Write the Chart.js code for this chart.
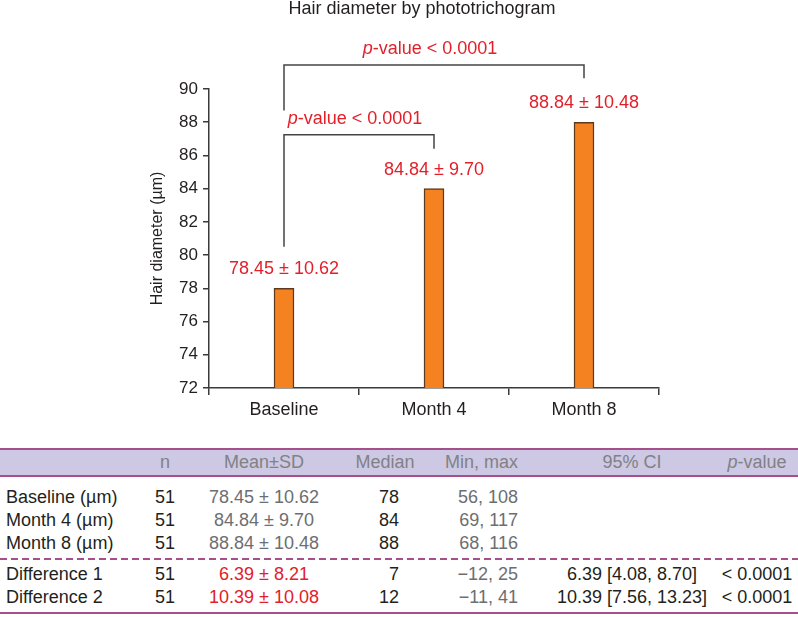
<!DOCTYPE html>
<html>
<head>
<meta charset="utf-8">
<script src="https://cdn.jsdelivr.net/npm/chart.js@4"></script>
<style>
  body { margin: 0; background: #fff; }
  #wrap { position: relative; width: 798px; height: 617px; font-family: "Liberation Sans", Arial, sans-serif; color: #231f20; }
  #chart { position: absolute; left: 0; top: 0; }
  .cell { position: absolute; font-size: 18px; white-space: nowrap; line-height: 20px; }
  .hline { position: absolute; left: 0; width: 798px; }
</style>
</head>
<body>
<div id="wrap">
  <canvas id="chart" width="798" height="440"></canvas>
</div>
<script>
// chart data
var categories = ['Baseline', 'Month 4', 'Month 8'];
var barValues = [78, 84, 88];
var barLabels = ['78.45 ± 10.62', '84.84 ± 9.70', '88.84 ± 10.48'];

// significance brackets: [from index, to index, level, left leg end, right leg end]
var brackets = [
  [0, 1, 87.25, 80.5, 86.4],
  [0, 2, 91.45, 88.7, 90.65]
];
var bracketText = 'p-value < 0.0001';

// table data
var tableHeader = ['', 'n', 'Mean±SD', 'Median', 'Min, max', '95% CI', 'p-value'];
var rowNames = ['Baseline (µm)', 'Month 4 (µm)', 'Month 8 (µm)', 'Difference 1', 'Difference 2'];
var rowN = ['51', '51', '51', '51', '51'];
var rowMeanSD = ['78.45 ± 10.62', '84.84 ± 9.70', '88.84 ± 10.48', '6.39 ± 8.21', '10.39 ± 10.08'];
var rowMedian = ['78', '84', '88', '7', '12'];
var rowMinMax = ['56, 108', '69, 117', '68, 116', '−12, 25', '−11, 41'];
var rowCI = ['', '', '', '6.39 [4.08, 8.70]', '10.39 [7.56, 13.23]'];
var rowP = ['', '', '', '< 0.0001', '< 0.0001'];

var red = '#e3202a';
var axisColor = '#3a3a3a';
var fontFamily = '"Liberation Sans", Arial, sans-serif';

function drawPText(c, x, y, size) {
  var rest = bracketText.slice(1);
  c.font = 'italic ' + size + 'px ' + fontFamily;
  var w1 = c.measureText('p').width;
  c.font = size + 'px ' + fontFamily;
  var w2 = c.measureText(rest).width;
  var x0 = x - (w1 + w2) / 2;
  c.fillStyle = red;
  c.textAlign = 'left';
  c.textBaseline = 'middle';
  c.font = 'italic ' + size + 'px ' + fontFamily;
  c.fillText('p', x0, y);
  c.font = size + 'px ' + fontFamily;
  c.fillText(rest, x0 + w1, y);
}

var extras = {
  id: 'extras',
  afterDatasetsDraw: function(chart) {
    var c = chart.ctx;
    var xs = chart.scales.x, ys = chart.scales.y;
    c.save();
    // title
    c.fillStyle = '#231f20';
    c.font = '18px ' + fontFamily;
    c.textAlign = 'center';
    c.textBaseline = 'middle';
    c.fillText('Hair diameter by phototrichogram', 422, 9);
    // bar labels
    var meta = chart.getDatasetMeta(0);
    c.fillStyle = red;
    c.font = '18px ' + fontFamily;
    meta.data.forEach(function(bar, i) {
      c.fillText(barLabels[i], bar.x, bar.y - 19);
    });
    // brackets
    c.strokeStyle = '#444';
    c.lineWidth = 1.5;
    brackets.forEach(function(b) {
      var x1 = xs.getPixelForValue(b[0]);
      var x2 = xs.getPixelForValue(b[1]);
      var yTop = ys.getPixelForValue(b[2]);
      c.beginPath();
      c.moveTo(x1, ys.getPixelForValue(b[3]));
      c.lineTo(x1, yTop);
      c.lineTo(x2, yTop);
      c.lineTo(x2, ys.getPixelForValue(b[4]));
      c.stroke();
      drawPText(c, (x1 + x2) / 2 - 4, yTop - 16, 18);
    });
    c.restore();
  }
};

new Chart(document.getElementById('chart'), {
  type: 'bar',
  data: {
    labels: categories,
    datasets: [{
      data: barValues,
      backgroundColor: '#f58220',
      borderColor: '#5b3a1e',
      borderWidth: 1.5,
      barThickness: 20
    }]
  },
  options: {
    responsive: false,
    animation: false,
    layout: { padding: { left: 146, right: 139, top: 89, bottom: 0 } },
    plugins: { legend: { display: false }, tooltip: { enabled: false } },
    scales: {
      x: {
        afterFit: function(s) { s.height = 52; },
        grid: { drawOnChartArea: false, tickLength: 7, color: axisColor, lineWidth: 1.5 },
        border: { color: axisColor, width: 1.5 },
        ticks: { color: '#231f20', font: { size: 18, family: fontFamily }, padding: 4 }
      },
      y: {
        min: 72,
        max: 90,
        afterFit: function(s) { s.width = 63; },
        grid: { drawOnChartArea: false, tickLength: 6, color: axisColor, lineWidth: 1.5 },
        border: { color: axisColor, width: 1.5 },
        ticks: { stepSize: 2, color: '#231f20', font: { size: 17, family: fontFamily }, padding: 5 },
        title: { display: true, text: 'Hair diameter (µm)', color: '#231f20', font: { size: 16, family: fontFamily }, padding: { top: 2, bottom: 2 } }
      }
    }
  },
  plugins: [extras]
});

// table below the chart
var wrap = document.getElementById('wrap');
var lineColor = '#a64f8b';

function addLine(top, height, bg) {
  var d = document.createElement('div');
  d.className = 'hline';
  d.style.top = top + 'px';
  d.style.height = height + 'px';
  d.style.background = bg;
  wrap.appendChild(d);
}
addLine(449, 27, '#cdc8e4');
addLine(448, 2, lineColor);
addLine(475, 2, lineColor);
addLine(558, 1.5, 'repeating-linear-gradient(to right, ' + lineColor + ' 0 7px, transparent 7px 11px)');
addLine(612, 2, lineColor);

// column anchor: [x, align]
var colPos = [[6, 'left'], [165, 'center'], [264, 'center'], [399, 'right'], [518, 'right'], [632, 'center'], [757, 'center']];

function addCell(text, col, y, color, isHeader) {
  if (!text) return;
  var s = document.createElement('span');
  s.className = 'cell';
  var x = colPos[col][0], al = colPos[col][1];
  if (isHeader && col === 3) { x = 385; al = 'center'; }
  s.style.top = (y - 10) + 'px';
  s.style.color = color;
  if (al === 'left') { s.style.left = x + 'px'; }
  else if (al === 'right') { s.style.right = (798 - x) + 'px'; }
  else { s.style.left = x + 'px'; s.style.transform = 'translateX(-50%)'; }
  if (text.indexOf('p-') === 0) {
    s.innerHTML = '<i>p</i>' + text.slice(1);
  } else {
    s.textContent = text;
  }
  wrap.appendChild(s);
}

var headerGray = '#808285';
tableHeader.forEach(function(h, i) { addCell(h, i, 462, headerGray, true); });

var rowY = [497, 520, 543, 574, 597];
rowNames.forEach(function(name, r) {
  var y = rowY[r];
  var diff = r >= 3;
  addCell(name, 0, y, '#231f20');
  addCell(rowN[r], 1, y, '#231f20');
  addCell(rowMeanSD[r], 2, y, diff ? red : '#6d6e71');
  addCell(rowMedian[r], 3, y, '#231f20');
  addCell(rowMinMax[r], 4, y, '#6d6e71');
  addCell(rowCI[r], 5, y, '#231f20');
  addCell(rowP[r], 6, y, '#231f20');
});
</script>
</body>
</html>
